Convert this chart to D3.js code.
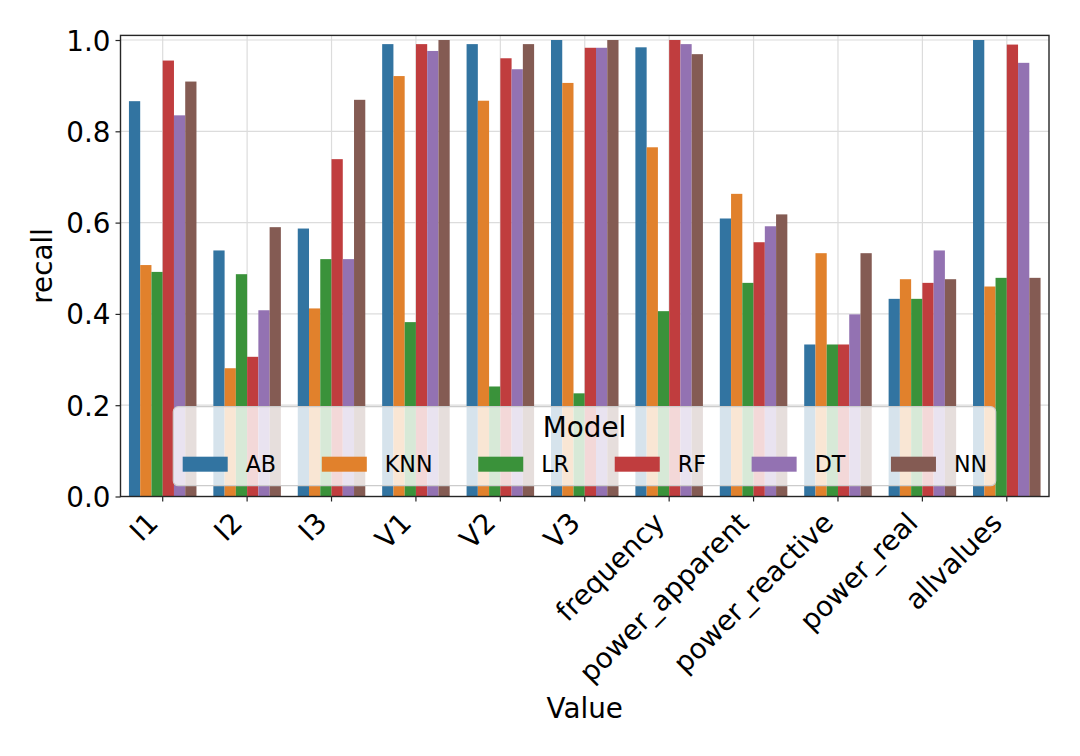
<!DOCTYPE html>
<html><head><meta charset="utf-8">
<script src="https://cdn.jsdelivr.net/npm/d3@7"></script>
<style>body{margin:0;background:#fff}svg{display:block}text{font-family:"DejaVu Sans",sans-serif;fill:#000}</style>
</head><body><svg id="c" width="1080" height="756"></svg>
<script>
const categories = ["I1","I2","I3","V1","V2","V3","frequency","power_apparent","power_reactive","power_real","allvalues"];
const models = ["AB","KNN","LR","RF","DT","NN"];
const colors = ["#3274a1","#e1812c","#3a923a","#c03d3e","#9372b2","#845b53"];
const AB  = [0.866,0.539,0.587,0.991,0.991,1.000,0.984,0.609,0.333,0.433,1.000];
const KNN = [0.507,0.281,0.412,0.921,0.867,0.906,0.765,0.663,0.533,0.476,0.460];
const LR  = [0.492,0.487,0.520,0.382,0.241,0.226,0.406,0.468,0.333,0.433,0.479];
const RF  = [0.955,0.306,0.739,0.991,0.960,0.983,1.000,0.557,0.333,0.468,0.990];
const DT  = [0.835,0.408,0.520,0.976,0.936,0.983,0.991,0.592,0.399,0.539,0.950];
const NN  = [0.909,0.590,0.869,1.000,0.991,1.000,0.969,0.618,0.533,0.476,0.479];
const seriesValues = [AB,KNN,LR,RF,DT,NN];
const yTicks = [0,0.2,0.4,0.6,0.8,1.0];

const svg = d3.select("#c");
const L=120.5, R=1049, T=35.4, B=496.5;
const x = d3.scaleBand().domain(categories).range([L,R]).padding(0);
const bw = x.bandwidth();
const inner = d3.scaleBand().domain(models).range([0.1*bw, 0.9*bw]).padding(0);
const y = d3.scaleLinear().domain([0,1.0101]).range([B,T]);
const fsTick = 27.8, fsLeg = 22.2;

// grid
const g = svg.append("g");
g.selectAll(".hg").data(yTicks).join("line")
  .attr("x1",L).attr("x2",R).attr("y1",d=>y(d)).attr("y2",d=>y(d))
  .attr("stroke","#dcdcdc").attr("stroke-width",1.2);
g.selectAll(".vg").data(categories).join("line")
  .attr("x1",d=>x(d)+bw/2).attr("x2",d=>x(d)+bw/2).attr("y1",T).attr("y2",B)
  .attr("stroke","#dcdcdc").attr("stroke-width",1.2);

// bars
const flat = [];
models.forEach((m,mi)=>categories.forEach((c,ci)=>flat.push({m,c,v:seriesValues[mi][ci],col:colors[mi]})));
svg.append("g").selectAll("rect").data(flat).join("rect")
  .attr("x",d=>x(d.c)+inner(d.m)).attr("width",inner.bandwidth())
  .attr("y",d=>y(d.v)).attr("height",d=>B-y(d.v)).attr("fill",d=>d.col);

// axes
const yAx = svg.append("g").attr("transform",`translate(${L},0)`)
  .call(d3.axisLeft(y).tickValues(yTicks).tickFormat(d3.format(".1f")).tickSize(5).tickPadding(5));
yAx.select(".domain").remove();
yAx.selectAll("line").attr("stroke","#262626").attr("stroke-width",1.2);
yAx.selectAll("text").attr("font-size",fsTick).attr("font-family","DejaVu Sans").attr("fill","#000").attr("dy","0.36em");

const xAx = svg.append("g").attr("transform",`translate(0,${B})`)
  .call(d3.axisBottom(x).tickSize(5).tickPadding(0));
xAx.select(".domain").remove();
xAx.selectAll("line").attr("stroke","#262626").attr("stroke-width",1.2);
xAx.selectAll("text").attr("font-size",fsTick).attr("font-family","DejaVu Sans").attr("fill","#000")
  .attr("text-anchor","end").attr("dy",null).attr("y",null)
  .attr("transform","translate(-3,28) rotate(-45)");

// spines
svg.append("rect").attr("x",L).attr("y",T).attr("width",R-L).attr("height",B-T)
  .attr("fill","none").attr("stroke","#262626").attr("stroke-width",1.4);

// labels
svg.append("text").attr("x",(L+R)/2).attr("y",718).attr("text-anchor","middle").attr("font-size",fsTick).text("Value");
svg.append("text").attr("transform",`translate(52,${(T+B)/2}) rotate(-90)`).attr("text-anchor","middle").attr("font-size",fsTick).text("recall");

// legend
const lg = svg.append("g");
lg.append("rect").attr("x",173.3).attr("y",406.7).attr("width",822.4).attr("height",79).attr("rx",5)
  .attr("fill","#fff").attr("fill-opacity",0.8).attr("stroke","#cccccc").attr("stroke-width",1.2);
lg.append("text").attr("x",584.5).attr("y",437).attr("text-anchor","middle").attr("font-size",fsTick).text("Model");
let cx = 182.7;
models.forEach((m,i)=>{
  lg.append("rect").attr("x",cx).attr("y",456.7).attr("width",45).attr("height",15).attr("fill",colors[i]);
  const t = lg.append("text").attr("x",cx+63).attr("y",471.5).attr("font-size",fsLeg).text(m);
  cx += 63 + t.node().getComputedTextLength() + 45.7;
});
</script></body></html>
